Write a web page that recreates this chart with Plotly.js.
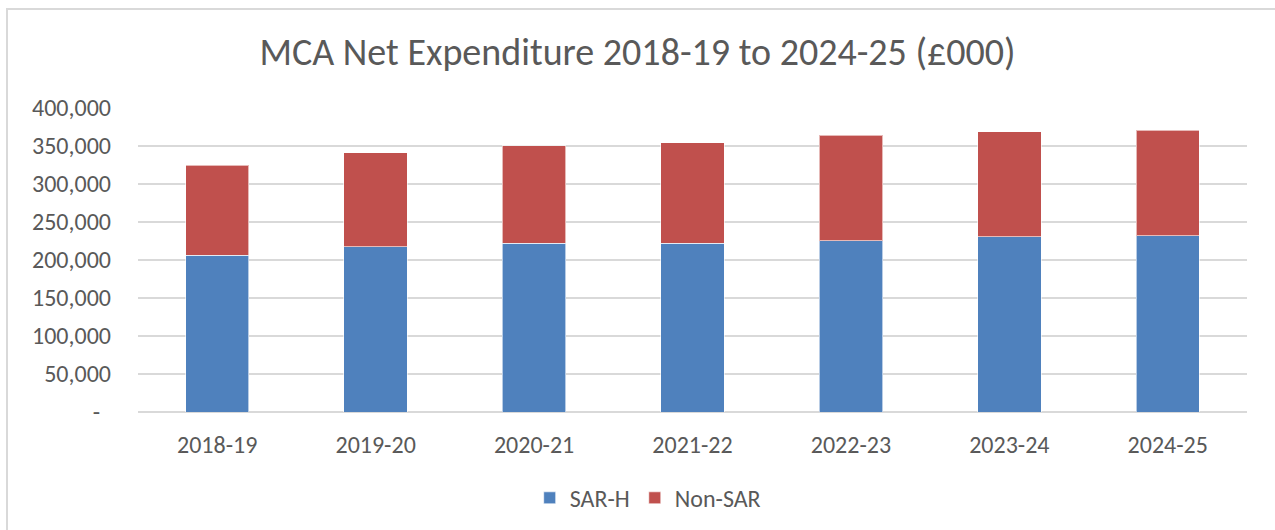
<!DOCTYPE html>
<html>
<head>
<meta charset="utf-8">
<script src="https://cdn.plot.ly/plotly-3.0.1.min.js"></script>
<style>
  html, body { margin: 0; padding: 0; background: #ffffff; }
  #wrap { position: relative; width: 1275px; height: 530px; }
  #chart { width: 1275px; height: 530px; }
  #frame { position: absolute; left: 6px; top: 8px; width: 1267px; height: 530px;
           border-left: 2px solid #d9d9d9; border-top: 2px solid #d9d9d9; border-right: 1px solid #e6e6e6;
           pointer-events: none; }
</style>
</head>
<body>
<div id="wrap">
  <div id="chart"></div>
  <div id="frame"></div>
</div>
<script>
const categories = ["2018-19", "2019-20", "2020-21", "2021-22", "2022-23", "2023-24", "2024-25"];
const sarH = [206400, 217300, 222100, 222100, 225600, 230400, 232100];
const nonSar = [118300, 123900, 128300, 131900, 138500, 138400, 138600];
const yTickVals = [0, 50000, 100000, 150000, 200000, 250000, 300000, 350000, 400000];
const yTickText = ["-\u00a0\u00a0", "50,000", "100,000", "150,000", "200,000", "250,000", "300,000", "350,000", "400,000"];

const FONT = "Carlito, 'Open Sans', 'Liberation Sans', sans-serif";
const TXT = "#595959";

const traces = [
  { type: "bar", name: "SAR-H", x: categories, y: sarH,
    marker: { color: "#4F81BD", line: { color: "rgba(255,255,255,0.6)", width: 1 } } },
  { type: "bar", name: "Non-SAR", x: categories, y: nonSar,
    marker: { color: "#C0504D", line: { color: "rgba(255,255,255,0.6)", width: 1 } } }
];

const layout = {
  width: 1275, height: 530,
  barmode: "stack",
  bargap: 0.6,
  paper_bgcolor: "#ffffff", plot_bgcolor: "#ffffff",
  margin: { l: 138, r: 28, t: 108, b: 118 },
  font: { family: FONT, color: TXT, size: 24 },
  title: { text: "MCA Net Expenditure 2018-19 to 2024-25 (£000)",
           font: { family: FONT, size: 38, color: TXT },
           xref: "container", x: 0.5, xanchor: "center",
           yref: "container", y: 0.903, yanchor: "middle" },
  xaxis: { type: "category", showgrid: false, showline: false, zeroline: false,
           ticks: "", ticklabelstandoff: 16,
           tickfont: { family: FONT, size: 24, color: TXT } },
  yaxis: { range: [0, 400000], tickvals: yTickVals, ticktext: yTickText,
           showgrid: true, gridcolor: "#d9d9d9", gridwidth: 1.5,
           zeroline: true, zerolinecolor: "#d9d9d9", zerolinewidth: 1.5,
           showline: false, ticks: "", ticklabelstandoff: 26,
           tickfont: { family: FONT, size: 24, color: TXT } },
  showlegend: true,
  legend: { orientation: "h", xref: "container", yref: "container",
            x: 0.508, xanchor: "center", y: 0.06, yanchor: "middle",
            font: { family: FONT, size: 24, color: TXT },
            itemwidth: 30, traceorder: "normal" },
  hovermode: false
};

Plotly.newPlot("chart", traces, layout, { displayModeBar: false, staticPlot: true });
</script>
</body>
</html>
